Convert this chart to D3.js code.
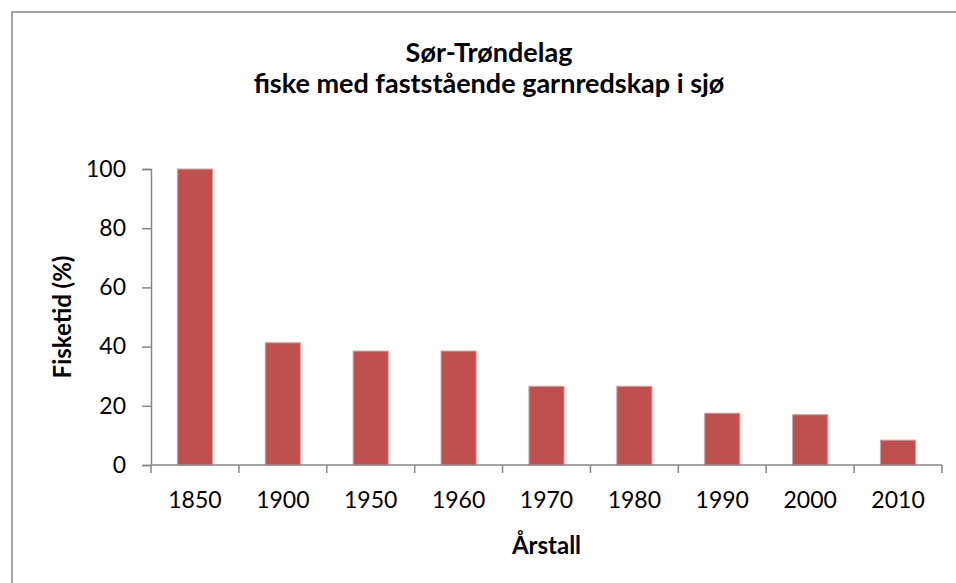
<!DOCTYPE html>
<html>
<head>
<meta charset="utf-8">
<script src="https://cdn.jsdelivr.net/npm/d3@7"></script>
<style>
    body { margin: 0; background: #fff; }
    svg { display: block; font-family: Lato, "Open Sans", sans-serif; }
</style>
</head>
<body>
<svg id="chart" width="956" height="583"></svg>
<script>
const years = ['1850', '1900', '1950', '1960', '1970', '1980', '1990', '2000', '2010']
const fisketid = [100, 41.3, 38.5, 38.5, 26.6, 26.6, 17.5, 17.0, 8.4]
const yTicks = [0, 20, 40, 60, 80, 100]
const titleLines = ['Sør-Trøndelag', 'fiske med faststående garnredskap i sjø']

const svg = d3.select('#chart')
const margin = { left: 151, top: 169, right: 14, bottom: 118 }
const width = 956 - margin.left - margin.right
const height = 583 - margin.top - margin.bottom
const axisColour = '#868686'

// outer frame
svg.append('rect')
    .attr('x', 12).attr('y', 12)
    .attr('width', 960).attr('height', 600)
    .attr('fill', 'none')
    .attr('stroke', axisColour)
    .attr('stroke-width', 1.5)

svg.selectAll('.title')
    .data(titleLines)
    .join('text')
    .attr('class', 'title')
    .attr('x', 489)
    .attr('y', (d, i) => 62 + i * 31)
    .attr('text-anchor', 'middle')
    .style('font-weight', 'bold')
    .style('font-size', '27px')
    .text(d => d)

const chart = svg.append('g').attr('transform', `translate(${margin.left}, ${margin.top})`)

const x = d3.scaleBand().domain(years).range([0, width]).paddingInner(0.6).paddingOuter(0.3)
const y = d3.scaleLinear().domain([0, 100]).range([height, 0])

chart.selectAll('.bar')
    .data(years)
    .join('rect')
    .attr('class', 'bar')
    .attr('x', d => x(d))
    .attr('y', (d, i) => y(fisketid[i]))
    .attr('width', x.bandwidth())
    .attr('height', (d, i) => height - y(fisketid[i]))
    .attr('fill', '#C0504D')
    .attr('stroke', '#DB9E9C')
    .attr('stroke-width', 1)

// y axis
chart.append('g')
    .attr('class', 'y-axis-group')
    .call(d3.axisLeft(y).tickValues(yTicks).tickSize(9).tickSizeOuter(9).tickPadding(16))
    .call(g => {
        g.select('.domain').attr('stroke', axisColour).attr('stroke-width', 1.5)
        g.selectAll('line').attr('stroke', axisColour).attr('stroke-width', 1.5)
        g.selectAll('text').attr('fill', '#000').style('font-size', '23px').style('font-family', 'Lato')
    })

// x axis: ticks sit on category boundaries
const step = x.step()
const boundaries = d3.range(years.length + 1).map(i => i * step)
const xAxis = chart.append('g').attr('transform', `translate(0, ${height})`)
xAxis.append('line')
    .attr('x1', 0).attr('x2', width)
    .attr('stroke', axisColour).attr('stroke-width', 1.5)
xAxis.selectAll('.tick-mark')
    .data(boundaries)
    .join('line')
    .attr('class', 'tick-mark')
    .attr('x1', d => d).attr('x2', d => d)
    .attr('y1', 0).attr('y2', 8)
    .attr('stroke', axisColour).attr('stroke-width', 1.5)
xAxis.selectAll('.x-label')
    .data(years)
    .join('text')
    .attr('class', 'x-label')
    .attr('x', d => x(d) + x.bandwidth() / 2)
    .attr('y', 43)
    .attr('text-anchor', 'middle')
    .style('font-size', '23px')
    .text(d => d)

// axis titles
chart.append('text')
    .attr('x', width / 2)
    .attr('y', height + 89)
    .attr('text-anchor', 'middle')
    .style('font-weight', 'bold')
    .style('font-size', '24px')
    .text('Årstall')

chart.append('text')
    .attr('transform', `translate(${63 - margin.left + 8}, ${height / 2}) rotate(270)`)
    .attr('text-anchor', 'middle')
    .style('font-weight', 'bold')
    .style('font-size', '24px')
    .text('Fisketid (%)')
</script>
</body>
</html>
